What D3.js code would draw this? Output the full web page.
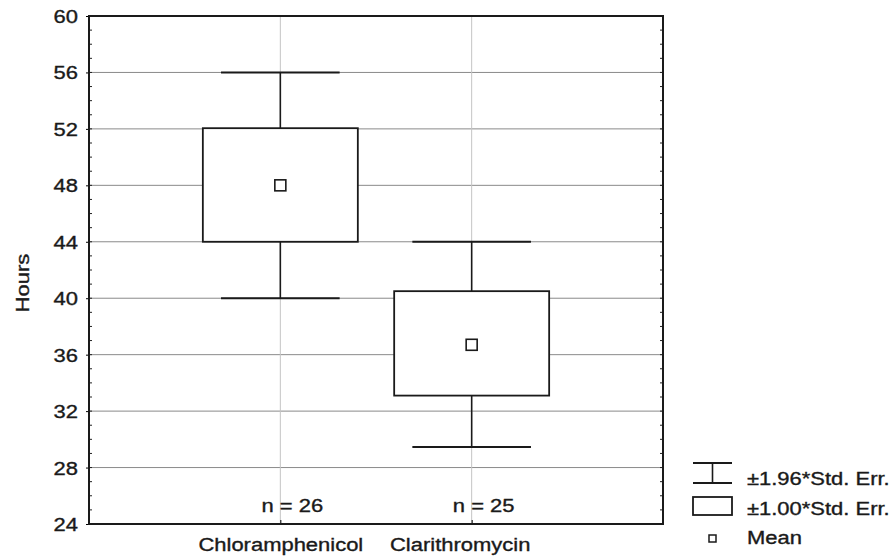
<!DOCTYPE html>
<html><head><meta charset="utf-8">
<script src="https://cdn.jsdelivr.net/npm/d3@7"></script>
<style>body{margin:0;background:#fff}svg{display:block}text{font-family:"Liberation Sans",Arial,sans-serif;fill:#1a1a1a;stroke:#1a1a1a;stroke-width:0.35px}</style>
</head><body>
<svg id="c" width="894" height="559"></svg>
<script>
const categories = ["Chloramphenicol", "Clarithromycin"];
const means = [48.0, 36.7];
const se1Low = [44.0, 33.1];
const se1High = [52.05, 40.5];
const se196Low = [40.0, 29.45];
const se196High = [56.0, 44.0];
const nCounts = [26, 25];
const yTicks = [24, 28, 32, 36, 40, 44, 48, 52, 56, 60];
const legendLabels = ["\u00b11.96*Std. Err.", "\u00b11.00*Std. Err.", "Mean"];

const svg = d3.select("#c");
const L = 89, R = 663, T = 16, B = 524;
const FS = 18, STRETCH = 1.22;
function stretch(sel) {
  sel.each(function () {
    const w = this.getComputedTextLength();
    d3.select(this).attr("textLength", w * STRETCH).attr("lengthAdjust", "spacingAndGlyphs");
  });
}

const x = d3.scalePoint().domain(categories).range([L, R]).padding(1);
const y = d3.scaleLinear().domain([24, 60]).range([B, T]);
const step = x.step();

// grid
svg.append("g").selectAll("line").data(yTicks.filter(t => t > 24 && t < 60)).join("line")
  .attr("x1", L).attr("x2", R).attr("y1", d => y(d)).attr("y2", d => y(d))
  .attr("stroke", "#8a8a8a").attr("stroke-width", 1);
svg.append("g").selectAll("line").data(categories).join("line")
  .attr("x1", d => x(d)).attr("x2", d => x(d)).attr("y1", T).attr("y2", B)
  .attr("stroke", "#c4c4c4").attr("stroke-width", 1);

// axes
const yAxisL = d3.axisLeft(y).tickValues(yTicks).tickSize(3).tickPadding(8);
const gl = svg.append("g").attr("transform", `translate(${L},0)`).call(yAxisL);
gl.select(".domain").remove();
gl.selectAll("text").attr("font-size", FS).attr("dy", "0.36em").call(stretch);
// minor inward ticks
const minor = d3.range(25, 60, 1);
svg.append("g").selectAll("line").data(minor).join("line")
  .attr("x1", L).attr("x2", L + 3).attr("y1", d => y(d)).attr("y2", d => y(d))
  .attr("stroke", "#222");
svg.append("g").selectAll("line").data(minor).join("line")
  .attr("x1", R - 3).attr("x2", R).attr("y1", d => y(d)).attr("y2", d => y(d))
  .attr("stroke", "#222");

const xAxis = d3.axisBottom(x).tickSize(-4).tickPadding(14);
const gx = svg.append("g").attr("transform", `translate(0,${B})`).call(xAxis);
gx.select(".domain").remove();
gx.selectAll("text").attr("font-size", FS).attr("dy", "0.71em").call(stretch);
gx.selectAll("text").filter(d => d === "Clarithromycin").attr("dx", -12);

// frame
svg.append("rect").attr("x", L).attr("y", T).attr("width", R - L).attr("height", B - T)
  .attr("fill", "none").attr("stroke", "#1a1a1a").attr("stroke-width", 2);

// y title
svg.append("text").attr("transform", `translate(29,283) rotate(-90)`)
  .attr("text-anchor", "middle").attr("font-size", FS).text("Hours").call(stretch);

// boxes
const boxHalf = step * 0.405, capHalf = step * 0.31;
const g = svg.append("g").selectAll("g").data(categories).join("g");
g.append("line").attr("x1", d => x(d)).attr("x2", d => x(d))
  .attr("y1", (d, i) => y(se196High[i])).attr("y2", (d, i) => y(se1High[i]))
  .attr("stroke", "#1a1a1a").attr("stroke-width", 1.6);
g.append("line").attr("x1", d => x(d)).attr("x2", d => x(d))
  .attr("y1", (d, i) => y(se1Low[i])).attr("y2", (d, i) => y(se196Low[i]))
  .attr("stroke", "#1a1a1a").attr("stroke-width", 1.6);
[se196High, se196Low].forEach(arr => {
  g.append("line").attr("x1", d => x(d) - capHalf).attr("x2", d => x(d) + capHalf)
    .attr("y1", (d, i) => y(arr[i])).attr("y2", (d, i) => y(arr[i]))
    .attr("stroke", "#1a1a1a").attr("stroke-width", 2);
});
g.append("rect").attr("x", d => x(d) - boxHalf).attr("width", boxHalf * 2)
  .attr("y", (d, i) => y(se1High[i])).attr("height", (d, i) => y(se1Low[i]) - y(se1High[i]))
  .attr("fill", "#fff").attr("stroke", "#1a1a1a").attr("stroke-width", 1.8);
g.append("rect").attr("x", d => x(d) - 5.5).attr("width", 11)
  .attr("y", (d, i) => y(means[i]) - 5.5).attr("height", 11)
  .attr("fill", "#fff").attr("stroke", "#1a1a1a").attr("stroke-width", 1.6);
g.append("text").attr("x", d => x(d) + 12).attr("y", B - 12)
  .attr("text-anchor", "middle").attr("font-size", FS)
  .text((d, i) => "n = " + nCounts[i]).call(stretch);

// legend
const lg = svg.append("g");
const sx = 693, sw = 39, tx = 747;
lg.append("line").attr("x1", sx).attr("x2", sx + sw).attr("y1", 463).attr("y2", 463).attr("stroke", "#1a1a1a").attr("stroke-width", 1.8);
lg.append("line").attr("x1", sx).attr("x2", sx + sw).attr("y1", 483).attr("y2", 483).attr("stroke", "#1a1a1a").attr("stroke-width", 1.8);
lg.append("line").attr("x1", sx + sw / 2).attr("x2", sx + sw / 2).attr("y1", 463).attr("y2", 483).attr("stroke", "#1a1a1a").attr("stroke-width", 1.6);
lg.append("rect").attr("x", sx).attr("y", 497).attr("width", sw).attr("height", 18).attr("fill", "none").attr("stroke", "#1a1a1a").attr("stroke-width", 1.8);
lg.append("rect").attr("x", sx + sw / 2 - 3.5).attr("y", 535).attr("width", 7).attr("height", 7).attr("fill", "none").attr("stroke", "#1a1a1a").attr("stroke-width", 1.5);
lg.selectAll("text.l").data(legendLabels).join("text").attr("class", "l")
  .attr("x", tx).attr("y", (d, i) => 485 + i * 29.5).attr("font-size", FS)
  .text(d => d).call(stretch);
</script>
</body></html>
